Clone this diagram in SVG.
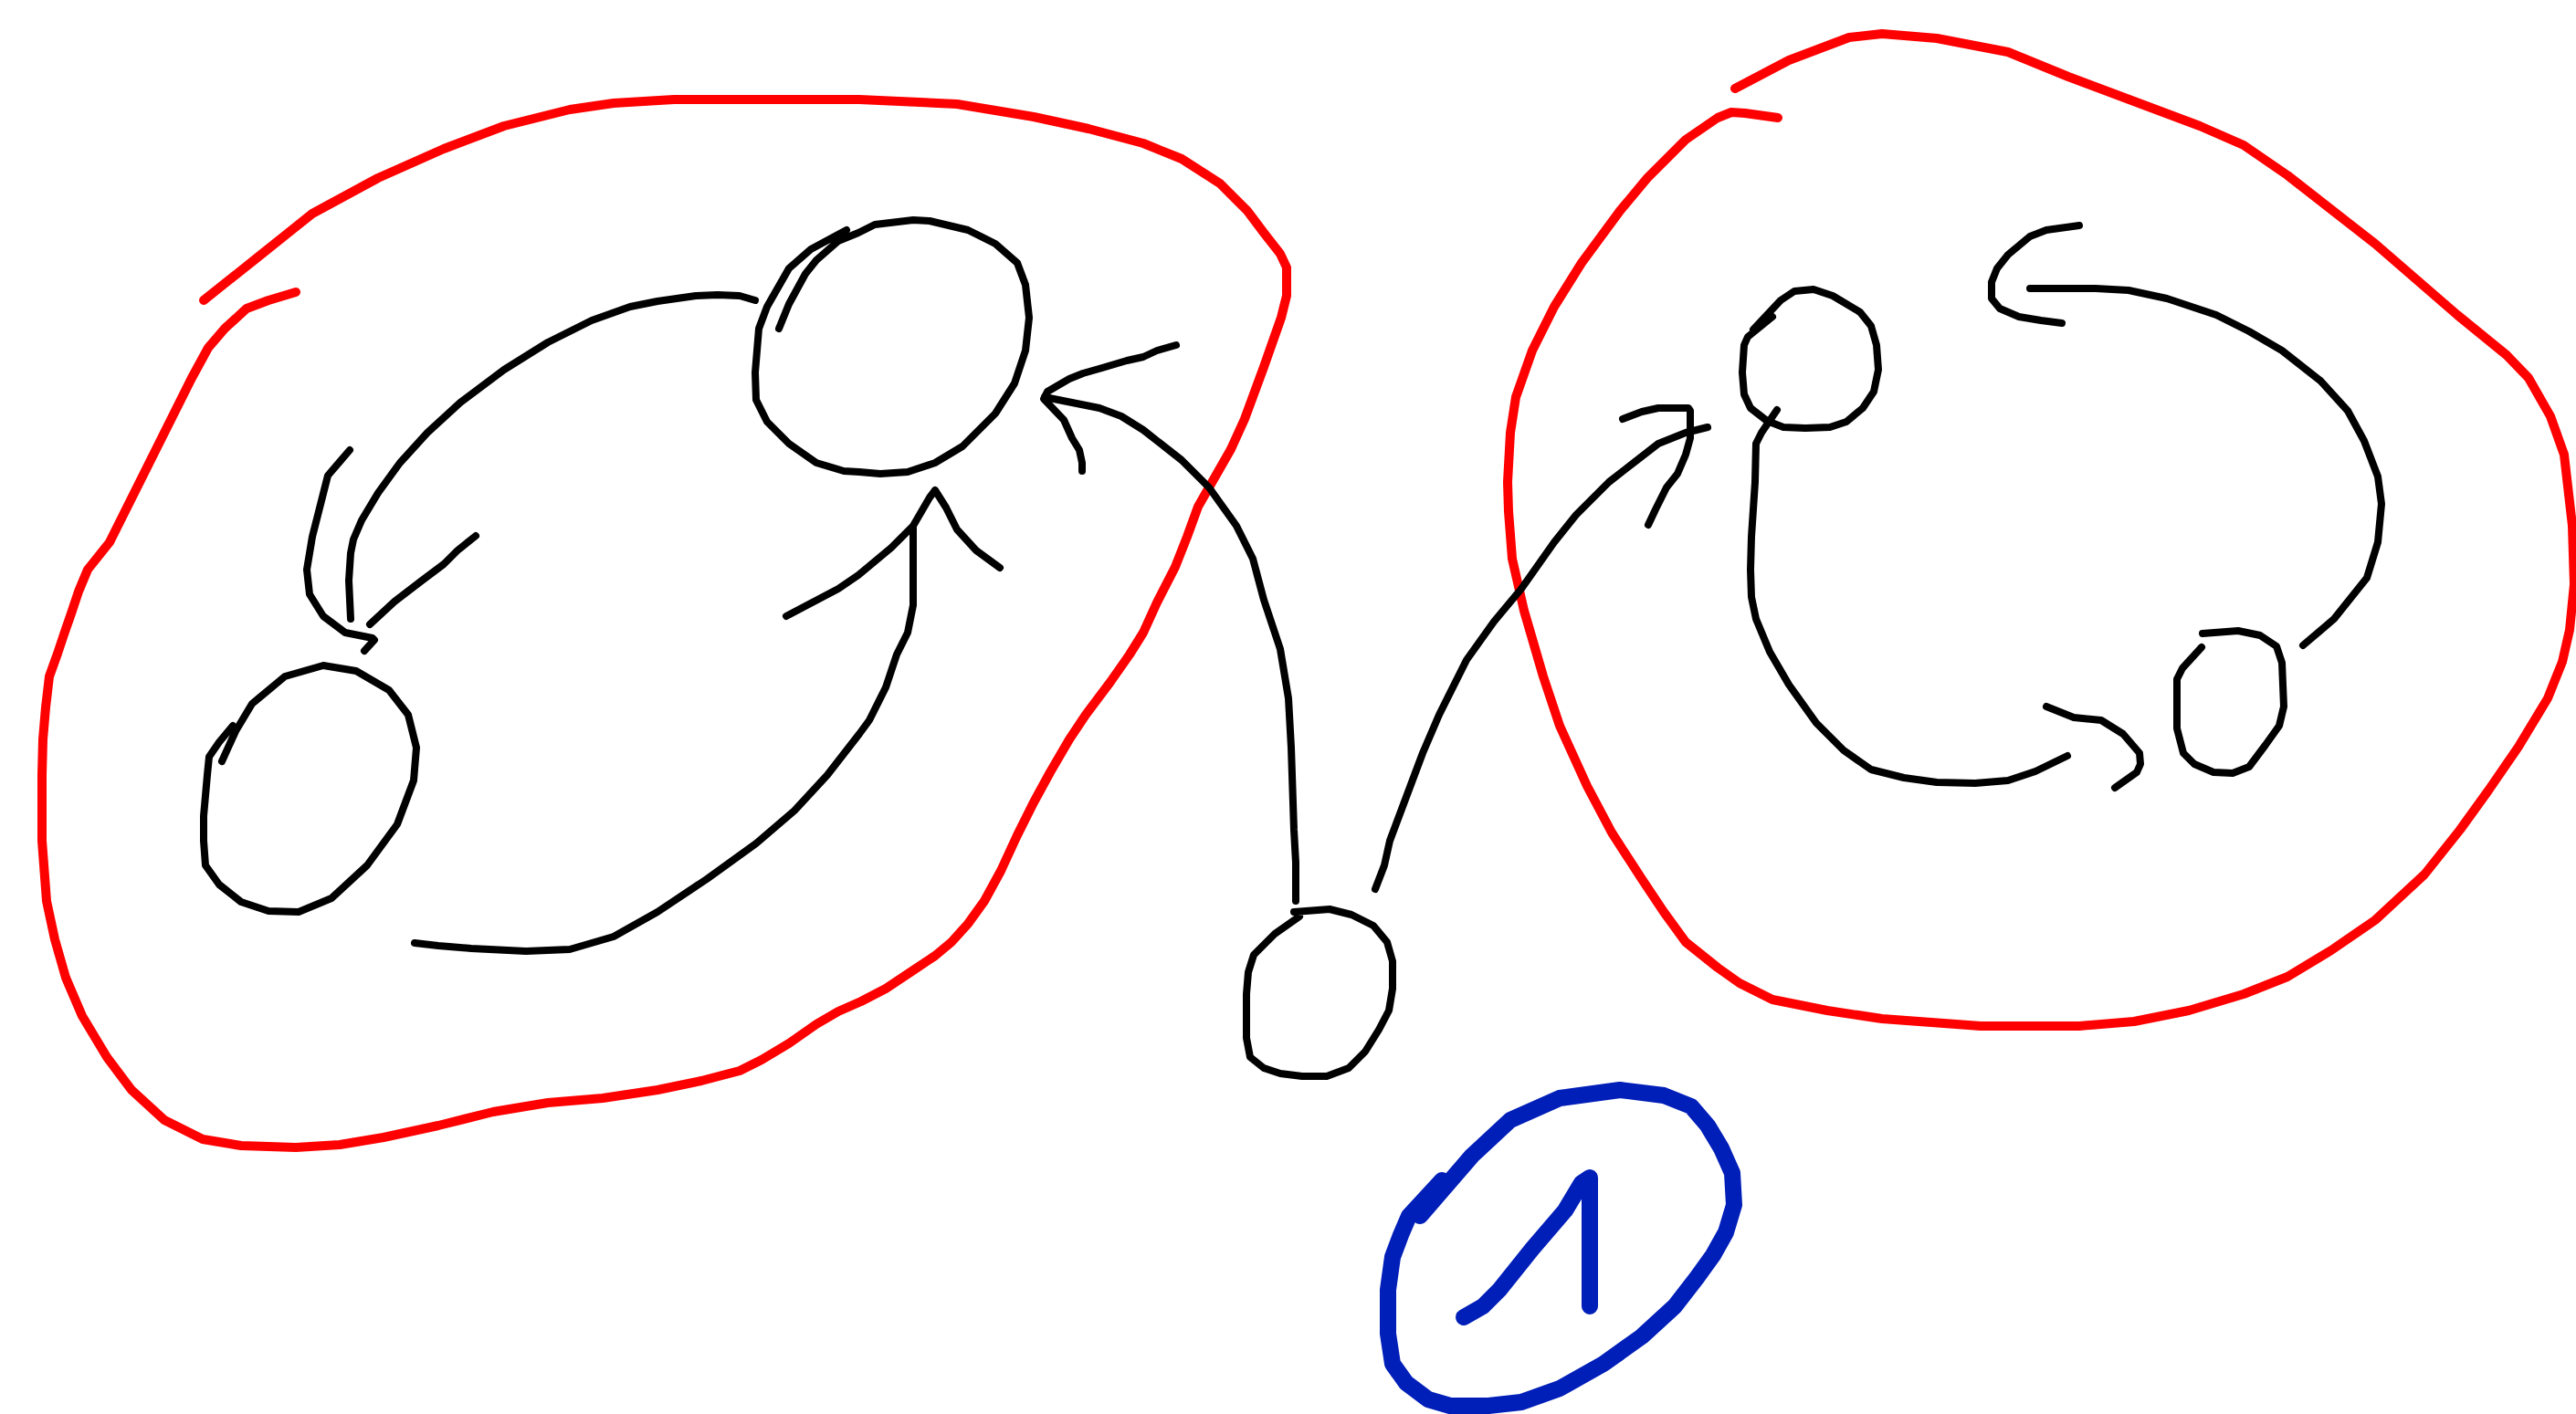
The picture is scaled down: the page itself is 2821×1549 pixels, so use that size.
<svg xmlns="http://www.w3.org/2000/svg" width="2821" height="1549" viewBox="0 0 2821 1549">
<style>
polyline{fill:none;stroke-linecap:round;stroke-linejoin:round}
.r{stroke:#ff0000;stroke-width:10}
.k{stroke:#000000;stroke-width:8}
.b{stroke:#001eb8;stroke-width:18}
</style>
<rect width="2821" height="1549" fill="#ffffff"/>
<g id="outline-left">
<polyline class="r" points="223,329 282,282 342,234 414,195 486,163 552,138 624,120 672,113 738,109 941,109 1048,114 1132,128 1192,141 1252,157 1294,174 1336,201 1366,231 1384,255 1402,278 1409,293 1409,324 1403,348 1384,402 1363,459 1348,492 1324,534 1312,555 1300,588 1287,621 1267,660 1252,693 1237,717 1216,747 1189,783 1171,810 1150,846 1132,879 1114,915 1096,954 1078,987 1060,1012 1042,1032 1024,1047 1000,1063 970,1083 943,1097 918,1108 894,1122 864,1143 834,1161 810,1173 768,1184 720,1194 660,1203 600,1208 540,1218 480,1233 420,1246 372,1254 324,1257 264,1255 222,1248 180,1227 144,1194 117,1158 90,1113 72,1071 60,1029 51,987 46,921 46,849 47,810 50,775 54,741 63,716 70,695 78,672 86,648 96,624 120,594 138,558 162,510 189,456 210,414 228,381 246,360 270,338 294,329 324,320"/>
</g>
<g id="outline-right">
<polyline class="r" points="1900,97 1959,66 2025,41 2061,37 2121,42 2199,57 2265,84 2337,111 2409,138 2457,159 2505,192 2601,267 2691,345 2745,389 2769,414 2793,456 2808,498 2817,576 2819,640 2814,690 2806,725 2790,765 2758,818 2725,866 2694,909 2655,958 2601,1008 2553,1041 2505,1070 2457,1089 2397,1107 2337,1119 2277,1124 2169,1124 2061,1116 2001,1107 1941,1095 1905,1077 1881,1060 1846,1032 1822,999 1798,963 1765,912 1738,861 1708,795 1690,741 1669,669 1656,612 1652,560 1651,528 1654,474 1660,435 1678,384 1702,336 1732,288 1774,231 1804,195 1846,153 1881,129 1896,123 1911,124 1947,129"/>
</g>
<g id="start-node">
<polyline class="b" points="1579,1293 1543,1332 1534,1353 1525,1377 1520,1413 1520,1461 1525,1494 1540,1515 1564,1533 1588,1540 1630,1540 1666,1536 1708,1521 1756,1494 1798,1464 1834,1431 1858,1400 1876,1375 1890,1350 1899,1320 1897,1285 1885,1258 1870,1233 1852,1212 1822,1200 1774,1194 1708,1203 1654,1227 1612,1266 1555,1332"/>
<polyline class="b" points="1603,1443 1624,1431 1642,1413 1678,1368 1714,1326 1732,1296 1741,1290 1741,1431"/>
</g>
<g id="node-left-top">
<polyline class="k" points="853,360 864,333 882,300 894,285 918,264 940,255 958,246 1000,241 1018,242 1060,252 1090,267 1114,288 1123,312 1127,348 1123,384 1111,420 1090,453 1054,489 1024,507 994,517 964,519 941,517 924,516 894,507 864,486 840,462 828,438 827,408 831,360 840,336 864,294 888,273 927,252"/>
</g>
<g id="node-left-bottom">
<polyline class="k" points="255,795 240,813 229,829 227,849 223,894 223,921 225,948 240,969 264,988 294,998 327,999 363,984 402,948 435,903 453,855 456,819 447,783 426,756 390,735 354,729 312,741 276,771 258,801 243,834"/>
</g>
<g id="node-middle">
<polyline class="k" points="1417,999 1456,996 1480,1002 1504,1014 1519,1032 1525,1053 1525,1083 1521,1107 1510,1128 1495,1152 1477,1170 1453,1179 1426,1179 1402,1176 1384,1170 1369,1158 1365,1137 1365,1089 1367,1065 1373,1046 1396,1023 1423,1004"/>
</g>
<g id="node-right-top">
<polyline class="k" points="1920,361 1935,345 1950,329 1965,319 1986,317 2007,324 2037,342 2049,357 2055,378 2057,405 2052,429 2040,447 2022,462 2004,468 1977,469 1953,468 1935,461 1917,447 1910,432 1908,408 1910,378 1914,369 1941,347"/>
</g>
<g id="node-right-bottom">
<polyline class="k" points="2412,694 2451,691 2475,696 2493,708 2499,726 2501,774 2496,795 2481,816 2463,840 2445,847 2424,846 2403,837 2391,825 2384,798 2384,744 2390,732 2411,709"/>
</g>
<g id="connectors">
<polyline class="k" points="827,329 810,324 786,323 762,324 720,330 690,336 648,351 600,375 552,405 504,441 468,474 438,507 414,540 396,570 387,591 384,606 382,636 384,678"/>
<polyline class="k" points="383,493 359,521 342,588 336,624 339,651 354,675 378,693 408,699 410,701 399,713"/>
<polyline class="k" points="405,684 432,659 462,636 486,618 501,603 521,587"/>
<polyline class="k" points="454,1033 480,1036 516,1039 576,1042 624,1040 672,1026 720,999 774,963 828,924 870,888 906,849 941,804 952,789 970,753 982,717 994,693 1000,663 1000,579"/>
<polyline class="k" points="861,675 918,645 940,630 976,600 1000,576 1018,545 1024,537 1036,556 1048,580 1069,603 1095,622"/>
<polyline class="k" points="1288,378 1267,384 1252,391 1234,395 1207,403 1186,409 1171,415 1147,429 1143,437 1165,460 1174,480 1182,493 1185,507 1185,516"/>
<polyline class="k" points="1144,435 1204,447 1228,456 1252,471 1294,504 1324,534 1354,576 1372,612 1384,657 1402,711 1411,765 1414,819 1417,909 1419,945 1419,987"/>
<polyline class="k" points="1506,974 1516,948 1522,921 1540,873 1558,825 1576,783 1606,723 1636,681 1666,645 1702,594 1726,564 1762,528 1816,486 1846,474 1870,468"/>
<polyline class="k" points="1777,459 1798,451 1816,447 1849,447 1851,450 1851,480 1846,498 1837,519 1825,534 1813,558 1805,575"/>
<polyline class="k" points="1946,449 1929,474 1923,486 1922,528 1918,588 1917,624 1918,654 1923,678 1938,714 1959,750 1989,792 2019,822 2049,843 2085,852 2121,857 2163,858 2199,855 2229,845 2264,828"/>
<polyline class="k" points="2241,774 2271,786 2301,789 2325,804 2343,825 2344,837 2340,846 2316,863"/>
<polyline class="k" points="2223,316 2295,316 2331,318 2373,327 2427,345 2463,363 2499,384 2541,417 2571,450 2589,483 2604,522 2608,552 2604,594 2592,633 2556,678 2522,707"/>
<polyline class="k" points="2277,247 2241,252 2223,259 2199,279 2187,294 2181,309 2181,327 2190,338 2211,347 2235,351 2258,354"/>
</g>
</svg>
